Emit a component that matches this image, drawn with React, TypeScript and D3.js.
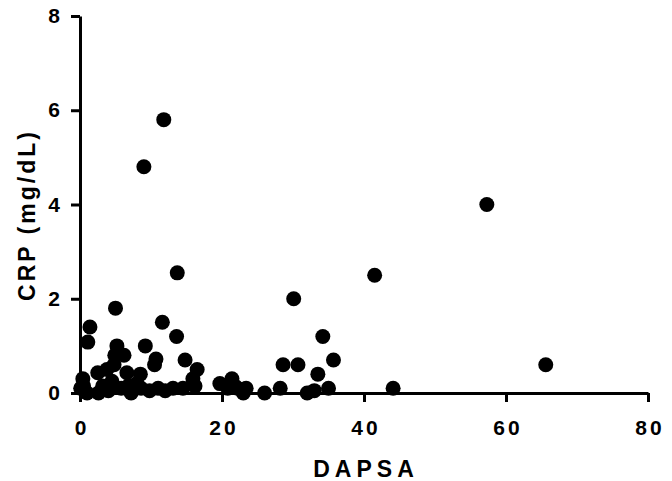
import React, { useEffect, useRef } from 'react';
import * as d3 from 'd3';

// DAPSA vs CRP, one entry per patient
const dapsa = [
  9.0, 11.8, 13.7, 57.3, 41.5, 30.1, 65.6, 44.1, 1.4, 1.1,
  5.0, 11.6, 13.6, 9.2, 5.2, 4.9, 6.2, 10.7, 14.8, 10.5,
  16.5, 15.9, 16.2, 34.2, 35.7, 28.6, 30.7, 33.5, 26.0, 28.2,
  32.0, 33.0, 35.0, 12.0, 13.1, 14.5, 19.7, 21.4, 22.2, 23.0,
  20.8, 2.5, 3.8, 6.6, 8.5, 0.4, 0.1, 4.5, 1.0, 2.6,
  4.0, 5.8, 7.2, 8.6, 9.8, 11.0, 4.8, 6.8, 3.2, 8.0,
  21.8, 23.4, 0.5,
];
const crp = [
  4.8, 5.8, 2.55, 4.0, 2.5, 2.0, 0.6, 0.1, 1.4, 1.08,
  1.8, 1.5, 1.2, 1.0, 1.0, 0.8, 0.8, 0.72, 0.7, 0.6,
  0.5, 0.3, 0.15, 1.2, 0.7, 0.6, 0.6, 0.4, 0.0, 0.1,
  0.0, 0.05, 0.1, 0.05, 0.1, 0.1, 0.2, 0.3, 0.1, 0.0,
  0.1, 0.43, 0.5, 0.43, 0.4, 0.3, 0.1, 0.25, 0.0, 0.0,
  0.05, 0.1, 0.0, 0.1, 0.05, 0.1, 0.6, 0.15, 0.15, 0.2,
  0.15, 0.1, 0.15,
];
const xTicks = [0, 20, 40, 60, 80];
const yTicks = [0, 2, 4, 6, 8];

const App = () => {
  const svgRef = useRef<SVGSVGElement>(null);

  useEffect(() => {
    const svg = d3.select(svgRef.current);
    svg.selectAll('*').remove();

    const margin = { top: 16, left: 80 };
    const width = 568;
    const height = 377;
    const font = 'Liberation Sans, Arial, sans-serif';

    const x = d3.scaleLinear().domain([0, 80]).range([0, width]);
    const y = d3.scaleLinear().domain([0, 8]).range([height, 0]);

    const g = svg.append('g').attr('transform', `translate(${margin.left},${margin.top})`);

    const xAxis = g.append('g')
      .attr('transform', `translate(0,${height})`)
      .call(d3.axisBottom(x).tickValues(xTicks).tickSize(9).tickSizeOuter(0));
    const yAxis = g.append('g')
      .call(d3.axisLeft(y).tickValues(yTicks).tickSize(9).tickPadding(11).tickSizeOuter(0));

    [xAxis, yAxis].forEach(a => {
      a.select('.domain').attr('stroke', '#000').attr('stroke-width', 3);
      a.selectAll('.tick line').attr('stroke', '#000').attr('stroke-width', 3);
      a.selectAll('.tick text')
        .attr('fill', '#000')
        .style('font-family', font)
        .style('font-size', '21px')
        .style('font-weight', 'bold');
    });
    // x labels sit well below the ticks, slightly spaced
    xAxis.selectAll('.tick text')
      .attr('y', 42)
      .attr('dy', 0)
      .attr('dx', '1.5px')
      .style('letter-spacing', '3px');

    g.selectAll('.dot')
      .data(dapsa.map((d, i) => [d, crp[i]]))
      .enter().append('circle')
      .attr('class', 'dot')
      .attr('cx', d => x(d[0]))
      .attr('cy', d => y(d[1]))
      .attr('r', 7.5)
      .attr('fill', '#000');

    svg.append('text')
      .attr('x', margin.left + width / 2 + 2)
      .attr('y', 477)
      .attr('text-anchor', 'middle')
      .style('font-family', font)
      .style('font-size', '23px')
      .style('font-weight', 'bold')
      .style('letter-spacing', '5px')
      .text('DAPSA');

    svg.append('text')
      .attr('transform', `translate(35,215) rotate(-90)`)
      .attr('text-anchor', 'middle')
      .style('font-family', font)
      .style('font-size', '23px')
      .style('font-weight', 'bold')
      .style('letter-spacing', '3px')
      .text('CRP (mg/dL)');
  }, []);

  return (
    <svg ref={svgRef} width={672} height={481}
      style={{ position: 'absolute', left: 0, top: 0, background: '#fff' }} />
  );
};

export default App;
